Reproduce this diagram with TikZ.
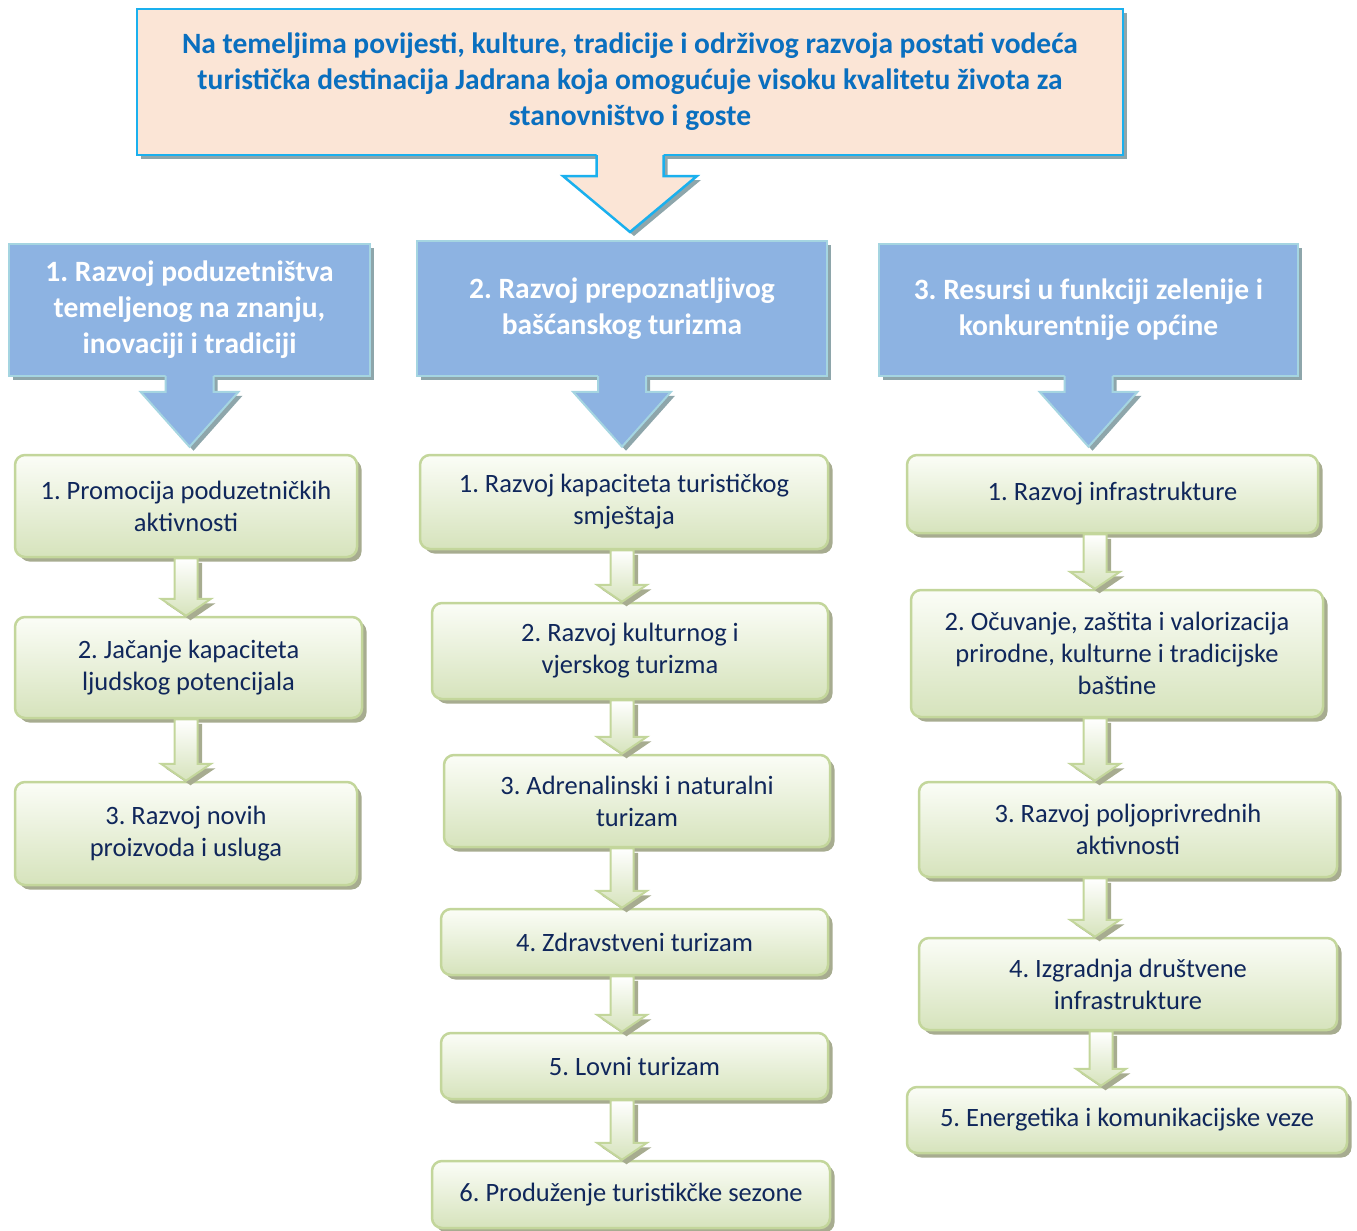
\documentclass[tikz,border=0pt]{standalone}
\usepackage{fontspec}
\setmainfont{Carlito}
\usepackage{xcolor}
\usepackage{tikz}
\usetikzlibrary{calc,shadows}
\frenchspacing

\definecolor{visionfill}{HTML}{FBE5D6}
\definecolor{visionline}{HTML}{1AB0EE}
\definecolor{visiontext}{HTML}{0A6FBF}
\definecolor{goalfill}{HTML}{8DB3E2}
\definecolor{goalline}{HTML}{A5D5E1}
\definecolor{shadowgrey}{HTML}{8EA6AB}
\definecolor{measuretop}{HTML}{FBFDF7}
\definecolor{measurebottom}{HTML}{D6E3BC}
\definecolor{measureline}{HTML}{C3D69B}
\definecolor{shadowgreen}{HTML}{A7AC90}
\definecolor{measuretext}{HTML}{10275B}

\tikzset{
  greyshadow/.style={drop shadow={shadow xshift=4pt, shadow yshift=-4pt, fill=shadowgrey, opacity=1}},
  greenshadow/.style={drop shadow={shadow xshift=4.5pt, shadow yshift=-4.5pt, fill=shadowgreen, opacity=1}},
  vision/.style={draw=visionline, line width=2.5pt, fill=visionfill, text=visiontext, align=center,
    inner sep=0pt, font=\fontsize{29.5}{36}\selectfont\bfseries, greyshadow},
  goal/.style={draw=goalline, line width=2pt, fill=goalfill, text=white, align=center,
    inner sep=0pt, font=\fontsize{29.5}{36}\selectfont\bfseries, greyshadow},
  measure/.style={draw=measureline, line width=2.5pt, rounded corners=10pt, top color=measuretop,
    bottom color=measurebottom, text=measuretext, align=center, inner sep=0pt,
    font=\fontsize{26.5}{32}\selectfont, greenshadow},
  stepArrow/.style={draw=measureline, line width=2pt, top color=white, bottom color=measurebottom, greenshadow}
}

\begin{document}
\begin{tikzpicture}[x=1pt, y=-1pt]
\useasboundingbox (0,0) rectangle (1357,1231);

%Vision
\node[vision, minimum width=986pt, minimum height=146pt] (vision) at (630,82)
  {Na temeljima povijesti, kulture, tradicije i održivog razvoja postati vodeća\\turistička destinacija Jadrana koja omogućuje visoku kvalitetu života za\\stanovništvo i goste};

%Goals
\node[goal, minimum width=361pt, minimum height=132pt] (b1) at (189.5,310) {1. Razvoj poduzetništva\\temeljenog na znanju,\\inovaciji i tradiciji};
\node[goal, minimum width=410pt, minimum height=135pt] (b2) at (622,308.5) {2. Razvoj prepoznatljivog\\bašćanskog turizma};
\node[goal, minimum width=419pt, minimum height=132pt] (b3) at (1088.5,310) {3. Resursi u funkciji zelenije i\\konkurentnije općine};

%Measures - column 1
\node[measure, minimum width=342pt, minimum height=102pt] (g11) at (186,506) {1. Promocija poduzetničkih\\aktivnosti};
\node[measure, minimum width=347pt, minimum height=101pt] (g12) at (188.5,667.5) {2. Jačanje kapaciteta\\ljudskog potencijala};
\node[measure, minimum width=342pt, minimum height=103pt] (g13) at (186,833.5) {3. Razvoj novih\\proizvoda i usluga};

%Measures - column 2
\node[measure, minimum width=408pt, minimum height=94pt] (g21) at (624,502) {1. Razvoj kapaciteta turističkog\\smještaja};
\node[measure, minimum width=396pt, minimum height=96pt] (g22) at (630,651) {2. Razvoj kulturnog i\\vjerskog turizma};
\node[measure, minimum width=386pt, minimum height=92pt] (g23) at (637,801) {3. Adrenalinski i naturalni\\turizam};
\node[measure, minimum width=387pt, minimum height=66pt] (g24) at (634.5,942) {4. Zdravstveni turizam};
\node[measure, minimum width=387pt, minimum height=66pt] (g25) at (634.5,1066) {5. Lovni turizam};
\node[measure, minimum width=398pt, minimum height=67pt] (g26) at (631,1194.5) {6. Produženje turistikčke sezone};

%Measures - column 3
\node[measure, minimum width=411pt, minimum height=78pt] (g31) at (1112.5,494) {1. Razvoj infrastrukture};
\node[measure, minimum width=412pt, minimum height=127pt] (g32) at (1117,653.5) {2. Očuvanje, zaštita i valorizacija\\prirodne, kulturne i tradicijske\\baštine};
\node[measure, minimum width=418pt, minimum height=95pt] (g33) at (1128,829.5) {3. Razvoj poljoprivrednih\\aktivnosti};
\node[measure, minimum width=418pt, minimum height=92pt] (g34) at (1128,984) {4. Izgradnja društvene\\infrastrukture};
\node[measure, minimum width=440pt, minimum height=66pt] (g35) at (1127,1120) {5. Energetika i komunikacijske veze};

%Vision arrow
\coordinate (vtip) at ($(vision.south |- b2.north)+(0,-8)$);
\path[fill=visionfill, greyshadow] ($(vision.south)+(-33.5,-3)$) -- ($(vtip)+(-33.5,-56)$) -- ++(-33.5,0) -- (vtip)
  -- ++(67,-56) -- ++(-33.5,0) -- ($(vision.south)+(33.5,-3)$) -- cycle;
\draw[visionline, line width=2.5pt] ($(vision.south)+(-33.5,-1.2)$) -- ($(vtip)+(-33.5,-56)$) -- ++(-33.5,0) -- (vtip)
  -- ++(67,-56) -- ++(-33.5,0) -- ($(vision.south)+(33.5,-1.2)$);

%Goal arrows
\foreach \a/\b in {b1/g11, b2/g21, b3/g31}{
  \coordinate (gtip) at ($(\a.south |- \b.north)+(0,-7)$);
  \path[fill=goalfill, greyshadow] ($(\a.south)+(-24,-3)$) -- ($(gtip)+(-24,-55)$) -- ++(-25,0) -- (gtip)
    -- ++(49,-55) -- ++(-25,0) -- ($(\a.south)+(24,-3)$) -- cycle;
  \draw[goalline, line width=2pt] ($(\a.south)+(-24,-1)$) -- ($(gtip)+(-24,-55)$) -- ++(-25,0) -- (gtip)
    -- ++(49,-55) -- ++(-25,0) -- ($(\a.south)+(24,-1)$);
}

%Measure arrows
\foreach \a/\b/\cx in {g11/g12/186, g12/g13/186, g21/g22/622, g22/g23/622, g23/g24/622, g24/g25/622,
    g25/g26/622, g31/g32/1095, g32/g33/1095, g33/g34/1095, g34/g35/1101}{
  \draw[stepArrow] ($(\a.south -| \cx,0)+(-11.5,0)$) -- ($(\b.north -| \cx,0)+(-11.5,-17)$) -- ++(-13.5,0)
    -- (\b.north -| \cx,0) -- ++(25,-17) -- ++(-13.5,0) -- ($(\a.south -| \cx,0)+(11.5,0)$) -- cycle;
}

\end{tikzpicture}
\end{document}
